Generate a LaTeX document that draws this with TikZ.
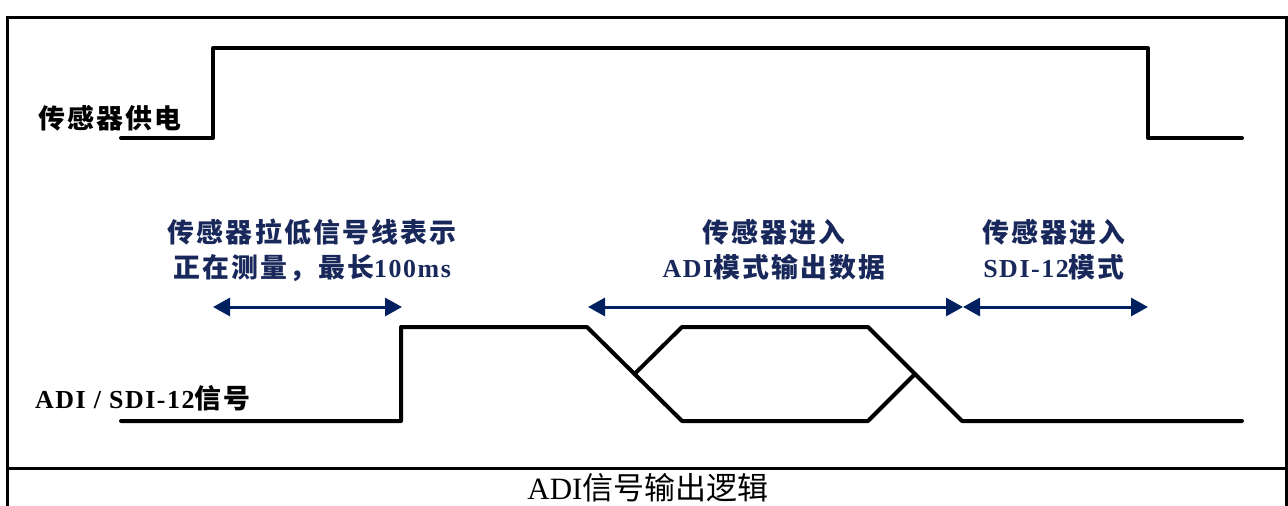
\documentclass[tikz,border=0pt]{standalone}
\usepackage{fontspec}
\setmainfont{Liberation Serif}
\newfontfamily\cjk{Noto Sans CJK SC}[LetterSpace=8, Scale=1.12]
\newfontfamily\cjkc{Noto Sans CJK SC}
\newfontfamily\lat{Liberation Serif}[LetterSpace=6, Scale=1.08]
\usetikzlibrary{arrows.meta}
\definecolor{navy}{RGB}{0,32,96}
\definecolor{txtblue}{RGB}{25,40,90}
\begin{document}
\begin{tikzpicture}[x=1pt,y=-1pt,
  sig/.style={line width=4pt, line join=round, line cap=round},
  frame/.style={line width=3pt},
  span/.style={navy, line width=3pt, {Triangle[length=17pt,width=18pt]}-{Triangle[length=17pt,width=18pt]}},
  lbl/.style={font=\fontsize{24}{28}\selectfont\bfseries, text=black, inner sep=0pt, anchor=west},
  note/.style={font=\fontsize{24}{35}\selectfont\bfseries, text=txtblue, inner sep=0pt, align=center}]
\useasboundingbox[fill=white] (0,0) rectangle (1288,506);
% frame
\draw[frame] (7,506) -- (7,17) -- (1286,17) -- (1286,506);
\draw[frame] (7,468) -- (1286,468);
% power waveform
\coordinate (p0) at (121,138);
\coordinate (p1) at (213,138);
\coordinate (p2) at (213,48);
\coordinate (p3) at (1148,48);
\coordinate (p4) at (1148,138);
\coordinate (p5) at (1242,138);
\draw[sig] (p0) -- (p1) -- (p2) -- (p3) -- (p4) -- (p5);
% ADI / SDI-12 waveform
\coordinate (s0) at (121,421);
\coordinate (s1) at (401,421);
\coordinate (s2) at (401,327);
\coordinate (s3) at (587,327);
\coordinate (x1) at (634.5,374);
\coordinate (s4) at (682,421);
\coordinate (s5) at (868,421);
\coordinate (x2) at (915,374);
\coordinate (t1) at (682,327);
\coordinate (t2) at (868,327);
\coordinate (s6) at (962,421);
\coordinate (s7) at (1242,421);
\draw[sig] (s0) -- (s1) -- (s2) -- (s3) -- (s4) -- (s5) -- (x2);
\draw[sig] (x1) -- (t1) -- (t2) -- (s6) -- (s7);
% labels
\node[lbl] (pwr) at (38,118) {\cjk 传感器供电};
\node[lbl] (adi) at (35,398) {{\lat ADI / SDI-12}{\cjk 信号}};
% notes
\node[note] (n1) at (312,250) {{\cjk 传感器拉低信号线表示}\\{\cjk 正在测量，最长}{\lat 100ms}};
\node[note] (n2) at (774,250) {{\cjk 传感器进入}\\{\lat ADI}{\cjk 模式输出数据}};
\node[note] (n3) at (1054,250) {{\cjk 传感器进入}\\{\lat SDI-12}{\cjk 模式}};
% spans
\coordinate (a1l) at (213,307);
\coordinate (a1r) at (402,307);
\coordinate (a2l) at (588,307);
\coordinate (a2r) at (963,307);
\coordinate (a3r) at (1148,307);
\draw[span] (a1l) -- (a1r);
\draw[span] (a2l) -- (a2r);
\draw[span] (a2r) -- (a3r);
% caption
\node[font=\fontsize{31}{31}\selectfont, inner sep=0pt] (cap) at (648,488) {ADI{\cjkc 信号输出逻辑}};
\end{tikzpicture}
\end{document}
